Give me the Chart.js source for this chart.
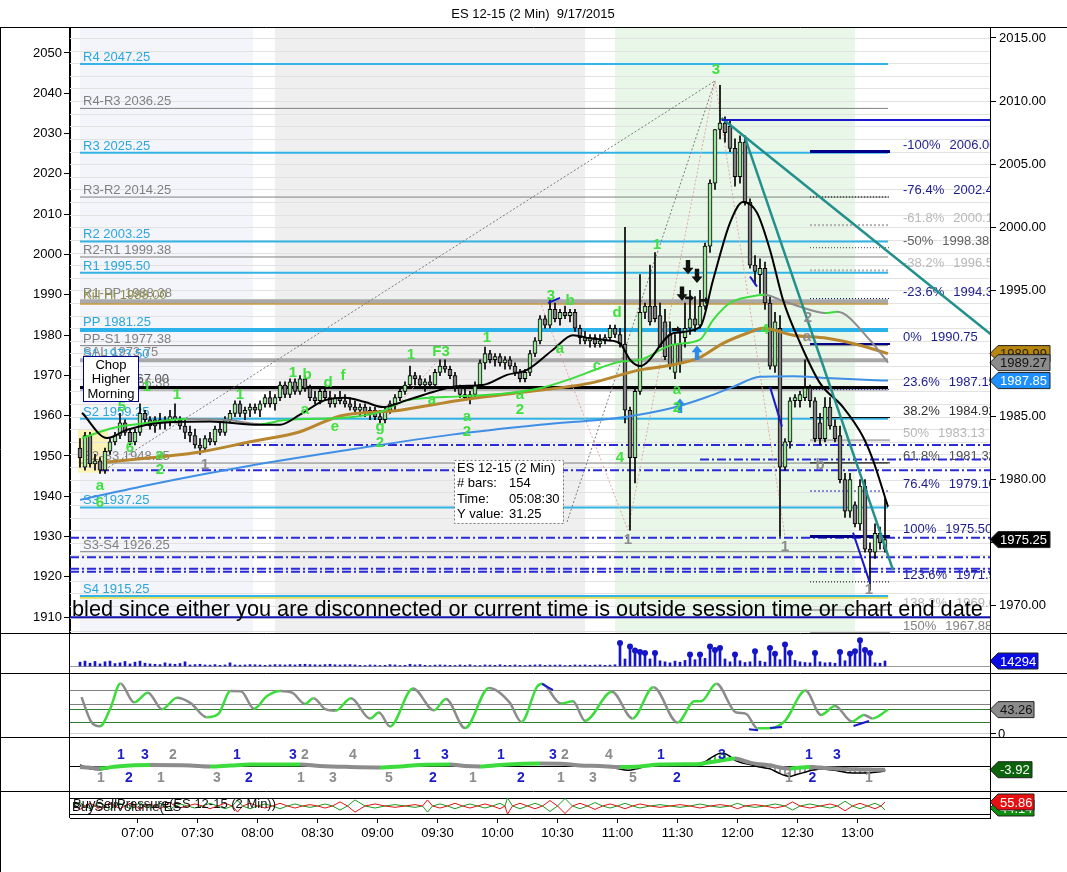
<!DOCTYPE html>
<html>
<head>
<meta charset="utf-8">
<title>ES 12-15 (2 Min) 9/17/2015</title>
<script src="https://cdn.jsdelivr.net/npm/chart.js@4.4.1/dist/chart.umd.min.js"></script>
<style>
  body { margin: 0; background: #fff; }
  #wrap { position: relative; width: 1067px; height: 872px; overflow: hidden; background: #fff; }
  #wrap canvas { position: absolute; left: 0; }
</style>
</head>
<body>
<div id="wrap">
  <canvas id="main" width="1067" height="633" style="top:0"></canvas>
  <canvas id="vol" width="1067" height="40" style="top:633px"></canvas>
  <canvas id="osc" width="1067" height="64" style="top:673px"></canvas>
  <canvas id="macd" width="1067" height="54" style="top:737px"></canvas>
  <canvas id="bsp" width="1067" height="81" style="top:791px"></canvas>
  <canvas id="frame" width="1067" height="872" style="top:0"></canvas>
</div>
<script>
var FONT = "'Liberation Sans', Arial, sans-serif";
Chart.defaults.font.family = FONT;
Chart.defaults.font.size = 13;
Chart.defaults.color = '#000';

// ---- price bars (bar index = drawing slot) ----
var opens = [
  1982.5,1981,1983.5,1981.25,1981.5,1980.75,1982.25,1983,1983.5,1984.5,
  1983.75,1983,1983.75,1985.25,1984.75,1984.25,1984.75,1984.5,1984.75,1985,
  1984.75,1984.25,1983.75,1983.5,1982.75,1982.5,1983.25,1983,1984,1983.75,
  1984.75,1985.25,1986,1985.25,1985.5,1985.75,1985.5,1986,1986.5,1986,
  1986.5,1987.5,1986.75,1987.75,1987,1988,1987.25,1986.5,1986.25,1987,
  1986.5,1986,1986.5,1986.25,1986,1985.75,1985.5,1985.75,1985.25,1985.5,
  1985,1984.75,1985.5,1986,1986.5,1987,1987.5,1988.25,1988,1987.5,
  1987.75,1987.5,1988.5,1989,1988.75,1988.25,1987.25,1986.75,1986.5,1986.75,
  1987.5,1989.25,1990,1989.5,1989.75,1989.25,1989.5,1989,1988.5,1988,
  1988.5,1990,1991,1992.75,1992.25,1993.5,1992.75,1993.25,1993,1993.25,
  1992,1991.25,1991,1991.25,1990.75,1991,1991.25,1992,1991.5,1990.75,
  1985.5,1981.75,1987,1993.25,1993.75,1993.75,1993,1992.5,1991.5,1988.5,
  1990.75,1991.25,1992,1992.75,1992.25,1993.75,1998.5,2003.5,2007.75,2008.25,
  2008,2006.25,2004,2006.75,2002,1997,1996.25,1996.75,1994,1989,
  1992,1981,1983,1986.25,1986.25,1986.5,1987.25,1986.25,1984.5,1983.25,
  1985.75,1984.25,1983.5,1980,1977.5,1978,1976.5,1979.5,1974.5,1974.25,
  1975.75,1974.5
];
var highs = [
  1983.25,1983.75,1983.75,1982,1981.75,1982.5,1983.25,1983.75,1985.25,1984.75,
  1984,1984,1986,1985.5,1985,1985,1985.25,1985,1985.5,1986,
  1985,1984.75,1984.25,1984,1983.25,1983.5,1983.75,1984.25,1984.5,1985,
  1985.5,1986.25,1986.25,1985.75,1986,1986,1986.25,1986.75,1987,1986.75,
  1987.75,1987.75,1988,1988,1988.25,1988.25,1987.5,1987,1987.25,1987.25,
  1987,1986.75,1987,1986.75,1986.5,1986.25,1986,1986,1985.75,1985.75,
  1985.5,1985.75,1986.25,1986.75,1987.25,1987.75,1989,1988.5,1988.25,1988,
  1988.25,1988.75,1989.5,1989.5,1989,1988.5,1987.5,1987.25,1987,1987.75,
  1989.5,1990.5,1990.25,1990,1990,1989.75,1989.75,1989.25,1988.75,1988.75,
  1990.25,1991.25,1993,1993,1994.25,1994,1993.5,1993.75,1993.5,1993.5,
  1992.25,1991.75,1991.5,1991.5,1991.5,1991.5,1992.25,1992.25,1992,2000,
  1985.75,1987.25,1996.25,1994,1997,1998,1994,1993.5,1992.5,1991.5,
  1992,1994,1995,1994.5,1995,1998.75,2003.75,2007.75,2011.25,2008.75,
  2008.5,2007,2007.25,2007.25,2002.25,1997.75,1997.5,1997.25,1994.5,1993.25,
  1993,1983.25,1986.5,1986.75,1987,1989.5,1987.5,1986.5,1985.25,1986.5,
  1986.5,1984.75,1984.25,1980.5,1980.5,1978.25,1980,1980,1975,1976.5,
  1976.25,1978.5
];
var lows = [
  1981,1980.75,1981,1980.75,1980.5,1980.5,1982,1982.75,1983.25,1983.5,
  1982.75,1982.75,1983.5,1984.5,1984,1983.75,1984,1984,1984.25,1984.5,
  1984,1983.25,1983,1982.5,1982,1982.25,1982.75,1982.75,1983.5,1983.5,
  1984.5,1985,1985,1984.75,1985,1985.25,1985,1985.75,1985.75,1985.5,
  1986.25,1986.5,1986.5,1986.75,1986.75,1987,1986.25,1986,1986,1986.25,
  1985.75,1985.75,1986,1985.75,1985.5,1985.25,1985,1985,1984.75,1984.75,
  1984.5,1984.5,1985.25,1985.5,1986.25,1986.75,1987.25,1987.5,1987.25,1987,
  1987.25,1987.25,1988.25,1988.5,1988,1987,1986.5,1986.25,1986,1986.5,
  1987.25,1988.75,1989.25,1989,1989,1988.75,1988.75,1988.25,1987.75,1987.75,
  1988.25,1989.75,1990.75,1992,1992,1992.5,1992.25,1992.75,1992.5,1991.75,
  1990.75,1990.75,1990.5,1990.5,1990.5,1990.75,1991,1991.25,1990.5,1984.5,
  1976,1979.75,1986.75,1992.75,1992.25,1992.5,1990.5,1989.5,1988.75,1988,
  1988.5,1990.5,1991.5,1991.75,1992,1993.5,1998,2003,2007,2006.75,
  2006,2003.25,2003.5,2001.75,1996.75,1995.5,1994.75,1993.5,1988.75,1988.5,
  1975.5,1980.75,1982.5,1985.75,1985.75,1986.25,1985.75,1983,1982.75,1983,
  1984,1983,1979.75,1977,1977,1976.25,1976,1974.25,1971.25,1973.75,
  1974.5,1974.25
];
var closes = [
  1981.75,1983.5,1981.25,1981.5,1980.75,1982.25,1983,1983.5,1984.5,1983.75,
  1983,1983.75,1985.25,1984.75,1984.25,1984.75,1984.5,1984.75,1985,1984.75,
  1984.25,1983.75,1983.5,1982.75,1982.5,1983.25,1983,1984,1983.75,1984.75,
  1985.25,1986,1985.25,1985.5,1985.75,1985.5,1986,1986.5,1986,1986.5,
  1987.5,1986.75,1987.75,1987,1988,1987.25,1986.5,1986.25,1987,1986.5,
  1986,1986.5,1986.25,1986,1985.75,1985.5,1985.75,1985.25,1985.5,1985,
  1984.75,1985.5,1986,1986.5,1987,1987.5,1988.25,1988,1987.5,1987.75,
  1987.5,1988.5,1989,1988.75,1988.25,1987.25,1986.75,1986.5,1986.75,1987.5,
  1989.25,1990,1989.5,1989.75,1989.25,1989.5,1989,1988.5,1988,1988.5,
  1990,1991,1992.75,1992.25,1993.5,1992.75,1993.25,1993,1993.25,1992,
  1991.25,1991,1991.25,1990.75,1991,1991.25,1992,1991.5,1990.75,1985.5,
  1981.75,1987,1993.25,1993.75,1992.5,1992.75,1990.5,1989.75,1989,1990.75,
  1989.25,1992,1992.75,1992.25,1993.75,1998.5,2003.5,2007.75,2008.25,2007.5,
  2006.25,2004,2006.75,2002,1997,1996.5,1996.75,1994,1989,1992.5,
  1981,1983,1986.25,1986.5,1986.75,1987.25,1986.25,1983.25,1983.25,1985.75,
  1984.25,1983.25,1980,1977.5,1980,1976.5,1979.5,1974.5,1974.25,1975.75,
  1975,1975.25
];
var volumes = [
  11000,14000,8000,13000,6000,12000,14000,7000,9000,13000,
  6000,11000,14000,8000,6000,5000,4000,9000,6000,5000,
  7000,12000,3000,4000,5000,3000,2500,4000,2000,3000,
  9000,3000,2500,3000,4000,3500,3000,2000,3000,4000,
  3500,3000,4000,3000,4500,5000,4000,3500,3000,4000,
  5000,3500,3000,3500,4000,3000,2000,1500,3000,2500,
  1500,2000,4000,3000,1500,2000,5000,3000,4000,2000,
  1500,2500,3000,2500,2000,1500,3000,2000,3500,1500,
  1500,3000,2500,2000,3500,2000,2000,3000,2000,1500,
  2500,3000,3500,2000,2500,2500,3000,1500,2000,3000,
  2500,3000,2000,2500,3000,2000,2500,3500,65800,20000,
  56000,44300,40000,37200,20000,37200,15000,12000,9000,14000,
  11000,16000,33200,18000,33200,22000,56000,45800,51500,20000,
  12000,33200,15000,10000,12000,42300,14000,11000,51500,35200,
  18000,61800,37200,16000,12000,10000,9000,37200,12000,9000,
  10000,8000,40000,15000,35200,42300,73500,45800,37200,9000,
  8000,14294
];

// time axis
var timeLabels = ['07:00','07:30','08:00','08:30','09:00','09:30','10:00','10:30','11:00','11:30','12:00','12:30','13:00'];
var timeTickAt = [11.5,23.5,35.5,47.5,59.5,71.5,83.5,95.5,107.5,119.5,131.5,143.5,155.5];

// floor pivots (left scale)
var pivotNames = ['R4','R4-R3','R3','R3-R2','R2','R2-R1','R1','R1-PP','Kill Hi','PP','PP-S1','SAL','S1','Kill Lo','S1-S2','S2','S2-S3','S3','S3-S4','S4'];
var pivotValues = [2047.25,2036.25,2025.25,2014.25,2003.25,1999.38,1995.50,1988.38,1988.00,1981.25,1977.38,1973.75,1973.50,1967.00,1966.38,1959.25,1948.25,1937.25,1926.25,1915.25];
var s4Band = 1914.8;
var floorLine = 1910;

// dash-dot levels (right scale) and the bar where each starts
var levelValues = [1982.75,1981.6,1980.75,1975.4,1973.85,1972.95,1972.7];
var levelFrom = [31,124,4,-2,-2,-2,-2];

// fibonacci retracement (right scale)
var fibNames = ['-100%','-76.4%','-61.8%','-50%','-38.2%','-23.6%','0%','23.6%','38.2%','50%','61.8%','76.4%','100%','123.6%','138.2%','150%'];
var fibValues = [2006.00,2002.40,2000.17,1998.38,1996.58,1994.35,1990.75,1987.15,1984.92,1983.13,1981.33,1979.10,1975.50,1971.90,1969.68,1967.88];

// moving averages [bar, price]
var maBlue = [[0,1978.4],[14,1979.6],[34,1981.1],[56,1982.5],[74,1983.55],[92,1984.35],[108.6,1984.95],[118.6,1985.7],[125.4,1986.55],[130.6,1987.35],[136,1988.15],[142.6,1988.2],[149.4,1988.05],[158,1987.9],[161.6,1987.85]];
var maGold = [[5.4,1981.4],[24,1982.2],[34,1983.0],[44,1983.8],[52,1985.05],[64,1985.5],[76,1986.3],[88,1986.9],[102,1987.65],[112,1988.7],[118.6,1989.1],[124,1989.7],[128.6,1990.8],[133.4,1991.6],[136.6,1992.0],[142.6,1991.45],[149.4,1991.2],[156,1990.65],[161.6,1989.99]];
var maGreen = [[0.4,1983.3],[6.6,1984.1],[14.6,1984.55],[21.4,1984.8],[30,1984.7],[36,1984.4],[40.6,1984.7],[54,1984.95],[60,1985.35],[65.4,1986.3],[76,1986.6],[85.4,1986.85],[92,1987.25],[98.6,1988.05],[104,1988.85],[108,1989.35],[112,1989.5],[118.6,1990.7],[124,1991.1],[126.6,1992.65],[130,1994.0],[134,1994.5],[137,1994.65],[140,1994.25],[147.4,1993.3],[149,1993.2],[151.4,1993.3],[158,1991.05],[161.6,1989.27]];
var maBlack = [[0.4,1985.3],[5.4,1983.3],[9.4,1983.95],[16,1984.5],[26,1984.6],[36,1984.35],[40,1984.35],[44,1985.15],[49,1986.3],[53,1986.5],[57,1986.15],[60.6,1985.75],[65.4,1986.3],[70.6,1986.95],[75.4,1987.4],[80.6,1987.5],[85.4,1988.3],[89.4,1988.7],[94.6,1990.3],[98.6,1991.45],[102,1991.2],[105.4,1991.05],[108,1990.8],[110,1989.5],[112,1989.0],[118.6,1991.6],[124,1992.1],[126.6,1995.8],[130,2000.35],[132.6,2002.0],[135.4,2001.15],[138,1998.2],[140.6,1994.25],[144,1990.85],[148,1987.65],[152.6,1985.75],[156.6,1983.4],[158.6,1981.55],[161.6,1977.85]];

// drawn tools [bar, price]
var highLine = [[128.3,2008.5],[182,2008.5]];
var trendA = [[128.3,2008.66],[182.3,1991.47]];
var trendB = [[133,2007.1],[162.6,1972.85]];
var zigGrayA = [[5,1980.8],[127,2011.6]];
var zigGrayB = [[97.4,1976.65],[127,2011.6]];
var zigPink = [[92,1994.1],[109.6,1976.0],[127,2011.6],[141,1975.5]];
var zigPinkB = [[60,1984.4],[72,1989.6]];
var swingBlue = [[[93.6,1994.0],[96,1994.4]],[[134,1996.1],[135.4,1995.3]],[[138,1987.35],[140.4,1984.2]],[[154.6,1975.8],[158,1971.8]]];
var arrowsDown = [[121.6,1996.8],[123.4,1996.1],[120.4,1994.7]];
var arrowsUp = [[123.4,1990.1],[120,1985.9]];
var arrowsRight = [[122,1994.4],[125,1994.2],[119.4,1991.9]];

// swing labels
var swingText  = ['1','5','6','a','2','a','6','1','1','1','b','d','f','a','e','g','2','1','F3','a','a','2','1','a','2','3','b','a','c','d','4','1','a','2','3','4'];
var swingIdx   = [13.4,8.4,10,16,16,4,4,19.4,32,42.6,45.4,49.6,52.6,45,51,60,60,66.2,72.2,70.4,77.4,77.4,81.4,88,88,94.2,98,96,103.4,107.4,108,115.4,119.4,119.4,127.2,137];
var swingPrice = [1987.35,1985.8,1982.5,1982.0,1980.8,1979.5,1978.15,1986.7,1986.7,1988.5,1988.3,1987.65,1988.2,1985.5,1984.2,1984.2,1982.9,1989.9,1990.1,1986.3,1985.0,1983.8,1991.2,1986.7,1985.5,1994.6,1994.2,1990.4,1989.0,1993.2,1981.7,1998.6,1987.1,1985.7,2012.5,1991.9];
var countText  = ['1','1','1','1','2','a','b'];
var countIdx   = [25,109.6,141,157.8,145.6,145.4,148];
var countPrice = [1981.2,1975.2,1974.7,1971.3,1992.8,1991.3,1981.2];

// session shading
var bandFrom = [0, 39, 107];
var bandTo = [34.6, 101, 155];

// oscillator [bar, value]
var oscPts = [[0.3,66.8],[2.2,21],[4,12],[6,44],[8.1,92.5],[10.8,57],[13.6,75],[16.4,44],[19.4,65.5],[22.2,55],[25.3,29],[27.7,35.6],[30.1,78],[32.2,77.7],[34.8,45],[37.4,68.7],[40.1,78],[42.5,74.5],[45,54],[46.7,64.7],[49.1,44],[51.1,41],[54.2,64.7],[58,26.6],[59.8,37.7],[62,11.8],[66.6,83],[70.8,42],[73.2,63.4],[77,8.6],[81.8,84],[85.9,57],[88.3,20.3],[91.4,86],[92.4,91.7],[96.2,54.6],[98.6,59],[101,22.3],[106.4,77],[110.5,26.8],[114.7,85.4],[119.5,19],[122.9,59],[124.2,59],[127.3,91.7],[131.1,38.5],[133.2,35.3],[135.5,8.3],[137.9,8.3],[141,22.3],[145.1,79],[148.2,33.4],[151,50],[154.4,21.2],[156.8,33.4],[158.5,26.8],[161.6,43.26]];
var oscLevels = [80, 54, 44, 20, 0];
var oscDiv = [[[92.4,91.7],[94.6,80]],[[133.8,6.4],[135.6,4.5]],[[138,8.8],[140.4,10.7]],[[154.7,12.5],[157.8,22]]];

// macd [bar, value]; per-bar tail from bar 124
var macdHead = [[0,1],[2,-3],[4,-4],[6,-2],[8,0],[14,1],[22,0.5],[26,-0.5],[30,0.5],[34,1.5],[44,1.5],[48,0],[54,-1],[60,-1.5],[64,-0.5],[68,1],[74,1.5],[77,0],[80,-0.5],[84,1],[92,2.5],[97,2],[100,0.5],[104,0],[107,-2],[109.6,-4.6],[112,-2],[115,1.5],[122,2.2]];
var signalHead = [[0,-1],[4,-2.5],[7.4,-0.5],[14,1],[22,0.5],[26,-0.5],[30,0.5],[34,1.5],[44,1.5],[48,0],[54,-1],[60,-1.5],[64,-0.5],[68,1],[74,1.5],[77,0],[80,-0.5],[84,1],[92,2.5],[97,2],[100,0.5],[104,0],[108,-1],[112,-0.5],[116,1.5],[122,1.8]];
var tailStart = 124;
var macdTail = [2.5,4.5,8,11,13.5,13,10,6,4,2.5,1.5,0,-1,-2,-3,-5.5,-8,-10,-11,-9.5,-8,-6.5,-5,-4,-3,-3.5,-4,-4.5,-5.5,-6.5,-7.2,-7.4,-7.4,-7.4,-7.2,-6.5,-6,-5.3];
var signalTail = [2,3,4,4.8,5.6,6.5,7.4,8,6.8,5,3.5,2.5,1.8,1.2,0.7,-0.5,-1.6,-2.4,-2.8,-2.2,-1.6,-1.2,-1,-1.2,-1.5,-2,-2.4,-2.7,-3,-3.2,-3.4,-3.5,-3.6,-3.7,-3.8,-3.85,-3.9,-3.92];
var macdCountText = ['1','3','2','1','3','2','4','1','3','1','3','2','4','1','3','1','3',
                     '1','2','1','3','2','1','3','5','2','1','2','1','3','5','2','1','2','1'];
var macdCountIdx = [8.2,13,18.6,31.4,42.6,45,54.6,67.4,73,84.2,94.6,97,105.8,116.2,128.4,145.8,151.4,
                    4.2,9.8,16.2,27.4,33.8,44.2,50.6,61.8,70.6,78.6,88.2,96.2,102.6,110.6,119.4,141.8,146.5,157.8];
var macdCountUp = [1,1,1,1,1,1,1,1,1,1,1,1,1,1,1,1,1, 0,0,0,0,0,0,0,0,0,0,0,0,0,0,0,0,0,0];
var macdCountBlue = [1,1,0,1,1,0,0,1,1,1,1,0,0,1,1,1,1, 0,1,0,0,1,0,0,0,1,0,1,0,0,0,1,0,1,0];

// buy/sell pressure
var bspX = [-1,0,1,2,3,4,5,6,7,8,9,10,11,12,13,14,15,16,17,18,19,20,21.5,23,24.5,26,27.5,29,30.5,31.5,32.5,34,35.5,37,38.5,40,41.5,43,44.5,46,47.5,49,50.5,52,53.5,55,57,59,61,63,65,67,68.5,69.5,70.5,72,73.5,75,76.5,78,79.5,81,82.5,84,85,85.5,86.5,88,89.5,91,92.5,94,95.5,97,98.5,100,101.5,103,104.5,106,107.5,109,110.5,112,114,116,118,120,122,124,126,128,130,131.5,133,135,137,139,141,142.5,144,146,148,150,151.5,153,154.5,156,157.5,159,160.2,161];
var bspBuy = [50,55,50,46,50,56,50,45,50,54, 50,46,50,55,50,47,50,54,50,45, 50,53,50,47,50,54,50,46,50,59, 50,46,50,53,50,46,50,53,50,48, 50,53,50,44,50,59,50,47,50,52, 50,48,50,41,50,53,50,46,50,53, 50,47,50,54,50,62,50,46,50,54, 50,42,50,61,50,46,50,55,50,47, 50,54,50,47,50,52,50,48,50,53, 50,48,50,54,50,48,50,53,50,44, 50,53,50,47,50,57,50,46,50,54, 50,44.14];
var bspSell = [50,45,50,54,50,44,50,55,50,46, 50,54,50,45,50,53,50,46,50,55, 50,47,50,53,50,46,50,54,50,41, 50,54,50,47,50,54,50,47,50,52, 50,47,50,56,50,41,50,53,50,48, 50,52,50,59,50,47,50,54,50,47, 50,53,50,46,50,38,50,54,50,46, 50,58,50,39,50,54,50,45,50,53, 50,46,50,53,50,48,50,52,50,47, 50,52,50,46,50,52,50,47,50,56, 50,47,50,53,50,43,50,54,50,46, 50,55.86];
var bspBox = [62, 38];

// ---------------------------------------------------------------
var X_MIN = -2, X_MAX = 182;
var LAST = closes.length - 1;

function pts(a) { return a.map(function (p) { return { x: p[0], y: p[1] }; }); }
function txt(c, s, x, y, col, font, align, base) {
  c.fillStyle = col; c.font = font; c.textAlign = align || 'left'; c.textBaseline = base || 'alphabetic';
  c.fillText(s, x, y);
}
function tag(c, yc, s, bg, fg, w) {
  var x0 = 990, h = 16;
  c.beginPath();
  c.moveTo(x0, yc); c.lineTo(x0 + 8, yc - h / 2); c.lineTo(x0 + 8 + w, yc - h / 2);
  c.lineTo(x0 + 8 + w, yc + h / 2); c.lineTo(x0 + 8, yc + h / 2); c.closePath();
  c.fillStyle = bg; c.fill(); c.strokeStyle = '#222'; c.lineWidth = 1; c.stroke();
  txt(c, s, x0 + 10, yc + 1, fg, '13px ' + FONT, 'left', 'middle');
}
function arrow(c, x, y, rot, col, k) {
  c.save(); c.translate(x, y); c.rotate(rot); c.scale(k, k); c.fillStyle = col;
  c.beginPath(); c.moveTo(-2, -7); c.lineTo(2, -7); c.lineTo(2, 0); c.lineTo(5, 0);
  c.lineTo(0, 6); c.lineTo(-5, 0); c.lineTo(-2, 0); c.closePath(); c.fill(); c.restore();
}
function pivotStyle(n) {
  if (n === 'PP') return { c: '#2cb2ea', w: 4, t: '#2aa6de' };
  if (n === 'R1-PP' || n === 'SAL') return { c: '#a9a9a9', w: 4, t: '#858585' };
  if (n === 'Kill Hi') return { c: '#c89b3c', w: 4, t: '#8f8f45' };
  if (n === 'Kill Lo') return { c: '#000', w: 3, t: '#555' };
  if (n.indexOf('-') >= 0) return { c: '#808080', w: 1, t: '#808080' };
  if (n === 'S1') return { c: '#33b4e6', w: 1, t: '#2aa6de' };
  return { c: '#33b4e6', w: 2, t: '#2aa6de' };
}
var fibLine = ['#00008b','#000','#b0b0b0','#404040','#b0b0b0','#000080','#00008b','#2020c0','#000','#b0b0b0','#000','#2020c0','#00008b','#000','#b0b0b0','#909090'];
var fibWidth = [3,1,2,1,2,1,2,1,1,2,1,1,3,1,2,1];
var fibDash = [[],[1,2],[2,2],[1,2],[2,2],[1,2],[],[1,2],[],[],[],[2,2],[],[1,2],[],[]];
var fibText = ['#1c1c8c','#1c1c8c','#b8b8b8','#606060','#b8b8b8','#1c1c8c','#1c1c8c','#1c1c8c','#303030','#b8b8b8','#505050','#1c1c8c','#1c1c8c','#1c1c8c','#b8b8b8','#808080'];
var rising = function (c) { return c.p1.parsed.y >= c.p0.parsed.y ? '#3ddc3d' : '#8c8c8c'; };
// keep tick labels from pushing the plot area in
function noLabelPad(s) { s.paddingTop = 0; s.paddingBottom = 0; s.paddingLeft = 0; s.paddingRight = 0; }

function line(data, axis, col, w, order, extra) {
  var d = { type: 'line', yAxisID: axis, data: data, borderColor: col, borderWidth: w, pointRadius: 0, order: order, fill: false };
  if (extra) for (var k in extra) d[k] = extra[k];
  return d;
}

// ---- main price panel ----
var ds = [];
pivotNames.forEach(function (n, k) {
  var st = pivotStyle(n);
  ds.push(line([{ x: 0, y: pivotValues[k] }, { x: LAST + 0.6, y: pivotValues[k] }], 'yL', st.c, st.w, 30));
});
ds.push(line([{ x: 0, y: s4Band }, { x: LAST + 0.6, y: s4Band }], 'yL', '#e8dc50', 2, 31));
ds.push(line([{ x: X_MIN, y: floorLine }, { x: X_MAX, y: floorLine }], 'yL', '#1414b4', 2, 30));
levelValues.forEach(function (v, k) {
  ds.push(line([{ x: levelFrom[k], y: v }, { x: X_MAX, y: v }], 'y', '#2a2ad8', 2, 28, { borderDash: [9, 3, 2, 3] }));
});
fibValues.forEach(function (v, k) {
  ds.push(line([{ x: 146, y: v }, { x: 162, y: v }], 'y', fibLine[k], fibWidth[k], 25, { borderDash: fibDash[k] }));
});
ds.push(line(pts(zigGrayA), 'y', '#7a7a7a', 1, 27, { borderDash: [2, 2] }));
ds.push(line(pts(zigGrayB), 'y', '#7a7a7a', 1, 27, { borderDash: [2, 2] }));
ds.push(line(pts(zigPink), 'y', '#e3a8a0', 1, 27, { borderDash: [2, 2] }));
ds.push(line(pts(zigPinkB), 'y', '#e3a8a0', 1, 27, { borderDash: [2, 2] }));

var wickData = [], bodyData = [], volData = [];
for (var i = 0; i <= LAST; i++) {
  wickData.push({ x: i, y: [lows[i], highs[i]] });
  bodyData.push({ x: i, y: [opens[i], closes[i]] });
  volData.push({ x: i, y: volumes[i] });
}
ds.push({ type: 'bar', yAxisID: 'y', data: wickData, backgroundColor: '#000', barThickness: 1, grouped: false, order: 6 });
ds.push({ type: 'bar', yAxisID: 'y', data: bodyData, grouped: false, order: 5, barThickness: 4,
  backgroundColor: function (c) { var j = c.dataIndex; return closes[j] >= opens[j] ? '#9de39d' : '#7f7f7f'; },
  borderColor: '#000', borderWidth: 1, borderSkipped: false });

ds.push(line(pts(maBlue), 'y', '#3f8fe6', 2, 4, { cubicInterpolationMode: 'monotone' }));
ds.push(line(pts(maGold), 'y', '#b8862e', 3, 4, { cubicInterpolationMode: 'monotone' }));
ds.push(line(pts(maGreen), 'y', '#3ddc3d', 2, 3, { cubicInterpolationMode: 'monotone', segment: { borderColor: rising } }));
ds.push(line(pts(maBlack), 'y', '#000', 2, 2, { cubicInterpolationMode: 'monotone' }));
ds.push(line(pts(highLine), 'y', '#1a1acc', 2, 1));
ds.push(line(pts(trendA), 'y', '#23908c', 2.5, 1));
ds.push(line(pts(trendB), 'y', '#23908c', 2.5, 1));
swingBlue.forEach(function (s) { ds.push(line(pts(s), 'y', '#1a1acc', 2, 1)); });

var mainDecor = {
  id: 'mainDecor',
  beforeDatasetsDraw: function (chart) {
    var c = chart.ctx, a = chart.chartArea, X = chart.scales.x, Y = chart.scales.y, L = chart.scales.yL;
    c.save();
    c.beginPath(); c.rect(a.left, a.top, a.right - a.left, a.bottom - a.top); c.clip();
    var bandCol = ['#f4f5fa', '#efefef', '#e9f7e9'];
    for (var k = 0; k < bandFrom.length; k++) {
      var x0 = X.getPixelForValue(bandFrom[k]), x1 = X.getPixelForValue(bandTo[k]);
      c.fillStyle = bandCol[k]; c.fillRect(x0, a.top, x1 - x0, a.bottom - a.top);
    }
    var yx0 = X.getPixelForValue(-0.4), yx1 = X.getPixelForValue(5.6);
    var yy0 = Y.getPixelForValue(1984), yy1 = Y.getPixelForValue(1980.55);
    c.fillStyle = '#fbf3b5'; c.fillRect(yx0, yy0, yx1 - yx0, yy1 - yy0);
    c.strokeStyle = '#e2e2e2'; c.lineWidth = 1;
    for (var v = Math.ceil(Y.min); v <= Y.max; v++) {
      var py = Math.round(Y.getPixelForValue(v)) + 0.5;
      c.beginPath(); c.moveTo(a.left, py); c.lineTo(a.right, py); c.stroke();
    }
    var lx = X.getPixelForValue(0.6);
    pivotNames.forEach(function (n, k) {
      var st = pivotStyle(n);
      var py = L.getPixelForValue(pivotValues[k]);
      txt(c, n + ' ' + pivotValues[k].toFixed(2), lx, py - 3 - (st.w > 2 ? 1 : 0), st.t, '13px ' + FONT);
    });
    var fx = X.getPixelForValue(164.6);
    fibNames.forEach(function (n, k) {
      var py = Y.getPixelForValue(fibValues[k]) - 3;
      txt(c, n, fx, py, fibText[k], '13px ' + FONT);
      var w = c.measureText(n).width;
      txt(c, fibValues[k].toFixed(2), fx + w + 9, py, fibText[k], '13px ' + FONT);
    });
    c.restore();
  },
  afterDatasetsDraw: function (chart) {
    var c = chart.ctx, a = chart.chartArea, X = chart.scales.x, Y = chart.scales.y;
    c.save();
    c.beginPath(); c.rect(a.left, a.top, a.right - a.left, a.bottom - a.top); c.clip();
    arrowsDown.forEach(function (p) { arrow(c, X.getPixelForValue(p[0]), Y.getPixelForValue(p[1]), 0, '#111', 1.1); });
    arrowsUp.forEach(function (p) { arrow(c, X.getPixelForValue(p[0]), Y.getPixelForValue(p[1]), Math.PI, '#2a8be8', 1.1); });
    arrowsRight.forEach(function (p) { arrow(c, X.getPixelForValue(p[0]), Y.getPixelForValue(p[1]), -Math.PI / 2, '#111', 0.7); });
    swingText.forEach(function (s, k) {
      txt(c, s, X.getPixelForValue(swingIdx[k]), Y.getPixelForValue(swingPrice[k]), '#3fe03f', 'bold 15px ' + FONT, 'center', 'middle');
    });
    countText.forEach(function (s, k) {
      txt(c, s, X.getPixelForValue(countIdx[k]), Y.getPixelForValue(countPrice[k]), '#8c8c8c', 'bold 15px ' + FONT, 'center', 'middle');
    });
    // "Chop Higher Morning" note
    var bx = X.getPixelForValue(0.6), by = Y.getPixelForValue(1989.8);
    c.fillStyle = '#fff'; c.fillRect(bx, by, 55, 45);
    c.strokeStyle = '#00008b'; c.lineWidth = 1; c.strokeRect(bx + 0.5, by + 0.5, 55, 45);
    ['Chop', 'Higher', 'Morning'].forEach(function (s, k) { txt(c, s, bx + 28, by + 9 + k * 14.5, '#000', '13px ' + FONT, 'center', 'middle'); });
    // measure box
    var ix = X.getPixelForValue(74.8), iy = Y.getPixelForValue(1981.56);
    c.fillStyle = '#fff'; c.fillRect(ix, iy, 109, 63);
    c.setLineDash([2, 2]); c.strokeStyle = '#777'; c.strokeRect(ix + 0.5, iy + 0.5, 109, 63); c.setLineDash([]);
    var rows = [['ES 12-15 (2 Min)', ''], ['# bars:', '154'], ['Time:', '05:08:30'], ['Y value:', '31.25']];
    rows.forEach(function (r, k) {
      txt(c, r[0], ix + 3, iy + 8 + k * 15.5, '#000', '13px ' + FONT, 'left', 'middle');
      if (r[1]) txt(c, r[1], ix + 55, iy + 8 + k * 15.5, '#000', '13px ' + FONT, 'left', 'middle');
    });
    // connection message
    var msg = 'bled since either you are disconnected or current time is outside session time or chart end date';
    c.font = '20px ' + FONT;
    var fs = 20 * 911 / c.measureText(msg).width;
    txt(c, msg, a.left + 2, a.bottom - 17, '#000', fs.toFixed(2) + 'px ' + FONT, 'left', 'alphabetic');
    c.restore();
  },
  afterDraw: function (chart) {
    var c = chart.ctx, Y = chart.scales.y;
    c.save();
    tag(c, Y.getPixelForValue(maGold[maGold.length - 1][1]), maGold[maGold.length - 1][1].toFixed(2), '#b8860b', '#222', 52);
    tag(c, Y.getPixelForValue(maGreen[maGreen.length - 1][1]), maGreen[maGreen.length - 1][1].toFixed(2), '#8c8c8c', '#111', 52);
    tag(c, Y.getPixelForValue(maBlue[maBlue.length - 1][1]), maBlue[maBlue.length - 1][1].toFixed(2), '#1e90ff', '#fff', 52);
    tag(c, Y.getPixelForValue(closes[LAST]), closes[LAST].toFixed(2), '#000', '#fff', 52);
    c.restore();
  }
};

new Chart(document.getElementById('main'), {
  type: 'bar',
  data: { datasets: ds },
  options: {
    responsive: false, animation: false, devicePixelRatio: 1, events: [],
    layout: { padding: { top: 28, left: 0, right: 0, bottom: 0 } },
    plugins: { legend: { display: false }, tooltip: { enabled: false } },
    scales: {
      x: { type: 'linear', min: X_MIN, max: X_MAX, display: false, offset: false },
      yL: { type: 'linear', position: 'left', min: 1906.08, max: 2056.2,
        ticks: { stepSize: 10, includeBounds: false, maxTicksLimit: 20, padding: 2, color: '#000', callback: function (v) { return String(v); } },
        grid: { drawOnChartArea: false, tickLength: 6, color: '#000' },
        border: { display: true, color: '#000' },
        afterFit: function (s) { s.width = 70; noLabelPad(s); } },
      y: { type: 'linear', position: 'right', min: 1967.85, max: 2015.79,
        ticks: { stepSize: 5, includeBounds: false, padding: 3, color: '#000', callback: function (v) { return v.toFixed(2); } },
        grid: { drawOnChartArea: false, tickLength: 6, color: '#000' },
        border: { display: true, color: '#000' },
        afterFit: function (s) { s.width = 77; noLabelPad(s); } }
    }
  },
  plugins: [mainDecor]
});

// ---- sub panels ----
function subOpts(yMin, yMax) {
  return {
    responsive: false, animation: false, devicePixelRatio: 1, events: [],
    layout: { padding: { left: 70, right: 77, top: 0, bottom: 0 } },
    plugins: { legend: { display: false }, tooltip: { enabled: false } },
    scales: {
      x: { type: 'linear', min: X_MIN, max: X_MAX, display: false, offset: false },
      y: { type: 'linear', min: yMin, max: yMax, display: false }
    }
  };
}
function hLevel(chart, v, col, w) {
  var c = chart.ctx, a = chart.chartArea, py = Math.round(chart.scales.y.getPixelForValue(v)) + (w % 2 ? 0.5 : 0);
  c.strokeStyle = col; c.lineWidth = w; c.beginPath(); c.moveTo(a.left, py); c.lineTo(a.right, py); c.stroke();
}

// volume
new Chart(document.getElementById('vol'), {
  type: 'bar',
  data: { datasets: [
    { type: 'bar', data: volData, backgroundColor: '#1515c8', barThickness: 2, grouped: false, order: 2 },
    { type: 'line', data: volData, showLine: false, order: 1, pointBorderWidth: 0, pointBackgroundColor: '#1515c8',
      pointRadius: function (c) { return c.raw && c.raw.y > 30000 ? 3 : 0; } }
  ] },
  options: subOpts(-20020, 94380),
  plugins: [{ id: 'volDecor',
    beforeDatasetsDraw: function (ch) { ch.ctx.save(); hLevel(ch, 0, '#9a9a9a', 1); ch.ctx.restore(); },
    afterDraw: function (ch) { ch.ctx.save(); tag(ch.ctx, ch.scales.y.getPixelForValue(volumes[LAST]), String(volumes[LAST]), '#0a0ae6', '#fff', 40); ch.ctx.restore(); } }]
});

// oscillator
var oscDs = [line(pts(oscPts), 'y', '#3ddc3d', 2.5, 2, { cubicInterpolationMode: 'monotone', segment: { borderColor: rising } })];
oscDiv.forEach(function (s) { oscDs.push(line(pts(s), 'y', '#1a1acc', 2, 1)); });
new Chart(document.getElementById('osc'), {
  type: 'line',
  data: { datasets: oscDs },
  options: subOpts(-8.07, 112),
  plugins: [{ id: 'oscDecor',
    beforeDatasetsDraw: function (ch) {
      var cols = ['#808080', '#808080', '#2e7d32', '#2e7d32', '#d0d0d0'];
      ch.ctx.save(); oscLevels.forEach(function (v, k) { hLevel(ch, v, cols[k], 1); }); ch.ctx.restore();
    },
    afterDraw: function (ch) {
      var c = ch.ctx, y0 = Math.round(ch.scales.y.getPixelForValue(0)) + 0.5;
      c.save();
      c.strokeStyle = '#000'; c.lineWidth = 1; c.beginPath(); c.moveTo(990, y0); c.lineTo(996, y0); c.stroke();
      txt(c, '0', 998, y0 + 1, '#000', '13px ' + FONT, 'left', 'middle');
      tag(c, ch.scales.y.getPixelForValue(oscPts[oscPts.length - 1][1]), oscPts[oscPts.length - 1][1].toFixed(2), '#8c8c8c', '#111', 36);
      c.restore();
    } }]
});

// macd
var macdLine = pts(macdHead), sigLine = pts(signalHead), hatch = [];
macdTail.forEach(function (v, k) {
  macdLine.push({ x: tailStart + k, y: v });
  sigLine.push({ x: tailStart + k, y: signalTail[k] });
  hatch.push({ x: tailStart + k, y: [v, signalTail[k]] });
});
new Chart(document.getElementById('macd'), {
  type: 'bar',
  data: { datasets: [
    { type: 'bar', data: hatch, barThickness: 1, grouped: false, order: 4,
      backgroundColor: function (c) { var k = c.dataIndex; return macdTail[k] >= signalTail[k] ? '#38b838' : '#8a8a8a'; } },
    line(macdLine, 'y', '#000', 1.5, 3, { cubicInterpolationMode: 'monotone' }),
    line(sigLine, 'y', '#3ddc3d', 4, 2, { cubicInterpolationMode: 'monotone', segment: { borderColor: rising } })
  ] },
  options: subOpts(-26.3, 30.5),
  plugins: [{ id: 'macdDecor',
    beforeDatasetsDraw: function (ch) { ch.ctx.save(); hLevel(ch, 0, '#000', 1); ch.ctx.restore(); },
    afterDatasetsDraw: function (ch) {
      var c = ch.ctx, X = ch.scales.x, y0 = ch.scales.y.getPixelForValue(0);
      c.save();
      macdCountText.forEach(function (s, k) {
        var py = macdCountUp[k] ? y0 - 11 : y0 + 12;
        txt(c, s, X.getPixelForValue(macdCountIdx[k]), py, macdCountBlue[k] ? '#1c1cc8' : '#8c8c8c', 'bold 14px ' + FONT, 'center', 'middle');
      });
      c.restore();
    },
    afterDraw: function (ch) {
      ch.ctx.save();
      tag(ch.ctx, ch.scales.y.getPixelForValue(signalTail[signalTail.length - 1]), signalTail[signalTail.length - 1].toFixed(2), '#0b640b', '#fff', 34);
      ch.ctx.restore();
    } }]
});

// buy / sell pressure + time axis
var bspOpts = subOpts(32.35, 72.06);
bspOpts.scales.x = { type: 'linear', min: X_MIN, max: X_MAX, offset: false, position: 'bottom',
  afterBuildTicks: function (s) { s.ticks = timeTickAt.map(function (v) { return { value: v }; }); },
  ticks: { autoSkip: false, maxRotation: 0, padding: 3, color: '#000', callback: function (v, i) { return timeLabels[i]; } },
  grid: { drawOnChartArea: false, tickLength: 5, color: '#000' },
  border: { display: true, color: '#000' },
  afterFit: function (s) { s.height = 54; noLabelPad(s); } };
new Chart(document.getElementById('bsp'), {
  type: 'line',
  data: { datasets: [
    line(bspX.map(function (x, k) { return { x: x, y: bspBuy[k] }; }), 'y', '#1f9a1f', 1, 2),
    line(bspX.map(function (x, k) { return { x: x, y: bspSell[k] }; }), 'y', '#e01414', 1, 1)
  ] },
  options: bspOpts,
  plugins: [{ id: 'bspDecor',
    beforeDatasetsDraw: function (ch) { ch.ctx.save(); bspBox.forEach(function (v) { hLevel(ch, v, '#000', 1); }); ch.ctx.restore(); },
    afterDatasetsDraw: function (ch) {
      var c = ch.ctx, a = ch.chartArea;
      c.save();
      txt(c, 'BuySellPressure(ES 12-15 (2 Min))', a.left + 3, a.top + 17, '#111', '13px ' + FONT);
      txt(c, 'BuySellVolume(ES', a.left + 2, a.top + 20, '#111', '13px ' + FONT);
      c.restore();
    },
    afterDraw: function (ch) {
      var c = ch.ctx, Y = ch.scales.y;
      c.save();
      tag(c, Y.getPixelForValue(bspBuy[bspBuy.length - 1]) - 2, bspBuy[bspBuy.length - 1].toFixed(2), '#0f8f0f', '#fff', 36);
      tag(c, Y.getPixelForValue(bspSell[bspSell.length - 1]), bspSell[bspSell.length - 1].toFixed(2), '#e61010', '#fff', 36);
      c.restore();
    } }]
});

// ---- frame + title ----
(function () {
  var f = document.getElementById('frame').getContext('2d');
  f.strokeStyle = '#000'; f.lineWidth = 1;
  function hl(y, x0, x1) { f.beginPath(); f.moveTo(x0, y + 0.5); f.lineTo(x1, y + 0.5); f.stroke(); }
  function vl(x, y0, y1) { f.beginPath(); f.moveTo(x + 0.5, y0); f.lineTo(x + 0.5, y1); f.stroke(); }
  vl(0, 27, 872); hl(27, 0, 1067);
  vl(69, 27, 818); vl(990, 27, 818);
  hl(633, 0, 1067); hl(673, 0, 1067); hl(737, 0, 1067); hl(791, 0, 1067);
  txt(f, 'ES 12-15 (2 Min)  9/17/2015', 533, 14, '#000', '13px ' + FONT, 'center', 'middle');
})();
</script>
</body>
</html>
